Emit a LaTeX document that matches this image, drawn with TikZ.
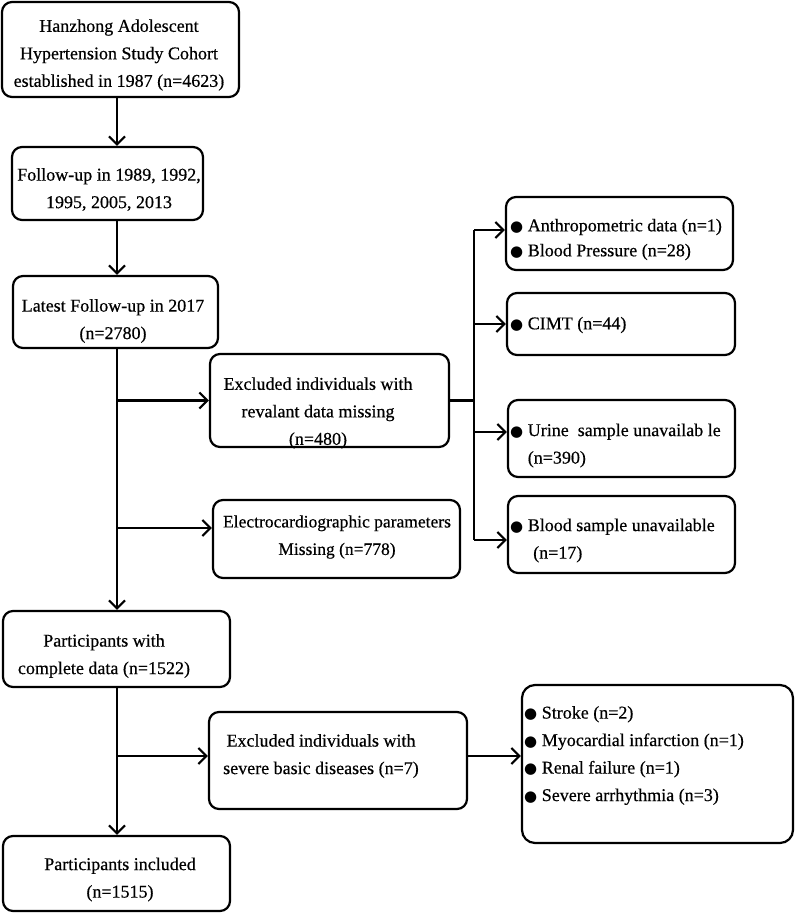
\documentclass[tikz,border=0pt]{standalone}
\usepackage{fontspec}
\setmainfont{Liberation Serif}[FakeBold=0.5]
\newfontfamily\symfont{DejaVu Sans}
\usetikzlibrary{arrows.meta,calc}
\newcommand\blt{{\symfont\fontsize{15}{15}\selectfont ●}}
\begin{document}
\begin{tikzpicture}[x=1pt,y=-1pt,
  box/.style={draw, line width=2.2pt, rounded corners=10pt, inner sep=0pt},
  txt/.style={align=center, inner sep=0pt, font=\fontsize{18}{27.5}\selectfont},
  ltxt/.style={align=left, anchor=west, inner sep=0pt, font=\fontsize{18}{27.5}\selectfont},
  arr/.style={line width=2.2pt, -{Straight Barb[length=8pt,width=16pt]}},
  ln/.style={line width=2.2pt}]
\useasboundingbox (0,0) rectangle (797,913);
% boxes
\node[box, minimum width=237pt, minimum height=95pt] (A) at (120.5,49.5) {};
\node[box, minimum width=191pt, minimum height=73pt] (B) at (107.5,183.5) {};
\node[box, minimum width=205pt, minimum height=72pt] (C) at (115.5,312) {};
\node[box, minimum width=239pt, minimum height=93pt] (D) at (329.5,400.5) {};
\node[box, minimum width=247pt, minimum height=78pt] (E) at (336.5,539) {};
\node[box, minimum width=227pt, minimum height=76pt] (F) at (116.5,649) {};
\node[box, minimum width=227pt, minimum height=75pt] (G) at (116.5,873.5) {};
\node[box, minimum width=258pt, minimum height=97pt] (H) at (338,760.5) {};
\node[box, rounded corners=13pt, minimum width=271pt, minimum height=158pt] (I) at (657.5,764) {};
\node[box, minimum width=227pt, minimum height=73pt] (J) at (619.5,233.5) {};
\node[box, minimum width=228pt, minimum height=62pt] (K) at (621,324) {};
\node[box, minimum width=227pt, minimum height=77pt] (L) at (621.5,438.5) {};
\node[box, minimum width=227pt, minimum height=77pt] (M) at (621.5,534.5) {};
% texts
\node[txt] (At) at (119,55) {Hanzhong Adolescent\\Hypertension Study Cohort\\established in 1987 (n=4623)};
\node[txt] (Bt) at (109,189.5) {Follow-up in 1989, 1992,\\1995, 2005, 2013};
\node[txt] (Ct) at (113,321) {Latest Follow-up in 2017\\(n=2780)};
\node[txt] (Dt) at (318,413) {Excluded individuals with\\revalant data missing\\(n=480)};
\node[txt, font=\fontsize{17.5}{27.5}\selectfont] (Et) at (337,537) {Electrocardiographic parameters\\Missing (n=778)};
\node[txt] (Ft) at (104,656) {Participants with\\complete data (n=1522)};
\node[txt] (Gt) at (120,879.5) {Participants included\\(n=1515)};
\node[txt] (Ht) at (321,756) {Excluded individuals with\\severe basic diseases (n=7)};
\node[ltxt] (It) at (524,755.5) {\blt{} Stroke (n=2)\\\blt{} Myocardial infarction (n=1)\\\blt{} Renal failure (n=1)\\\blt{} Severe arrhythmia (n=3)};
\node[ltxt, font=\fontsize{18}{25}\selectfont] (Jt) at (510,239.5) {\blt{} Anthropometric data (n=1)\\\blt{} Blood Pressure (n=28)};
\node[ltxt] (Kt) at (510,325) {\blt{} CIMT (n=44)};
\node[ltxt] (Lt) at (510,445.5) {\blt{} Urine\ \ sample unavailab le\\\phantom{\blt{} }(n=390)};
\node[ltxt] (Mt) at (510,540.5) {\blt{} Blood sample unavailable\\\hspace*{23pt}(n=17)};
% helper coordinates
\coordinate (s) at (117,0);
\coordinate (v) at (474,0);
\coordinate (ein) at ([yshift=11pt]E.west);
\coordinate (hin) at ([yshift=4.5pt]H.west);
\coordinate (hout) at ([yshift=4.5pt]H.east);
\coordinate (jin) at ([yshift=3.5pt]J.west);
\coordinate (lin) at ([yshift=6.5pt]L.west);
\coordinate (min) at ([yshift=-5.5pt]M.west);
% left column
\draw[arr] (A.south -| s) -- (B.north -| s);
\draw[arr] (B.south -| s) -- (C.north -| s);
\draw[arr] (C.south -| s) -- (F.north -| s);
\draw[arr] (D.west -| s) -- (D.west);
\draw[arr] (ein -| s) -- (ein);
\draw[arr] (F.south -| s) -- (G.north -| s);
\draw[arr] (hin -| s) -- (hin);
\draw[arr] (hout) -- (hout -| I.west);
% right branch
\draw[ln] (D.east) -- (D.east -| v);
\draw[ln] (jin -| v) -- (min -| v);
\draw[arr] (jin -| v) -- (jin);
\draw[arr] (K.west -| v) -- (K.west);
\draw[arr] (lin -| v) -- (lin);
\draw[arr] (min -| v) -- (min);
\end{tikzpicture}
\end{document}
